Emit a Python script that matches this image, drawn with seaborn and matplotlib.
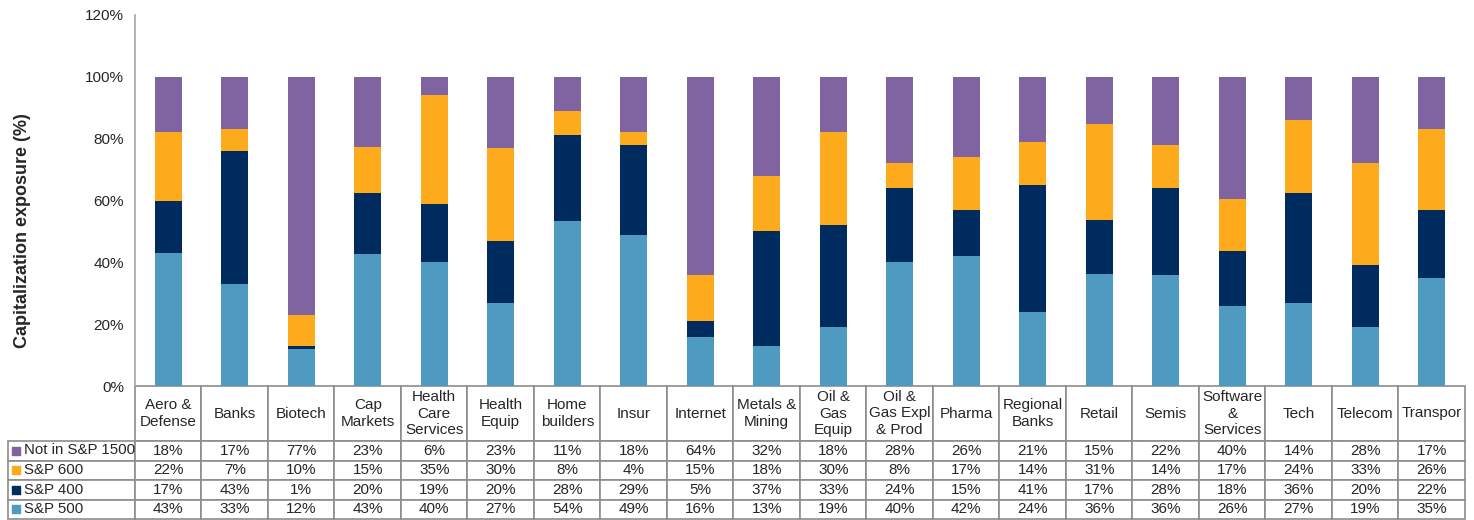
import matplotlib
matplotlib.use('Agg')
import matplotlib.pyplot as plt
import seaborn as sns
import pandas as pd
import numpy as np

sectors = ['Aero &\nDefense', 'Banks', 'Biotech', 'Cap\nMarkets', 'Health\nCare\nServices',
           'Health\nEquip', 'Home\nbuilders', 'Insur', 'Internet', 'Metals &\nMining',
           'Oil &\nGas\nEquip', 'Oil &\nGas Expl\n& Prod', 'Pharma', 'Regional\nBanks', 'Retail',
           'Semis', 'Software\n&\nServices', 'Tech', 'Telecom', 'Transpor']
not_in_1500 = [18, 17, 77, 23, 6, 23, 11, 18, 64, 32, 18, 28, 26, 21, 15, 22, 40, 14, 28, 17]
sp600 = [22, 7, 10, 15, 35, 30, 8, 4, 15, 18, 30, 8, 17, 14, 31, 14, 17, 24, 33, 26]
sp400 = [17, 43, 1, 20, 19, 20, 28, 29, 5, 37, 33, 24, 15, 41, 17, 28, 18, 36, 20, 22]
sp500 = [43, 33, 12, 43, 40, 27, 54, 49, 16, 13, 19, 40, 42, 24, 36, 36, 26, 27, 19, 35]

series_names = ['Not in S&P 1500', 'S&P 600', 'S&P 400', 'S&P 500']
series_vals = [not_in_1500, sp600, sp400, sp500]
colors = ['#8064A2', '#FDAA1C', '#002B5E', '#4F9AC1']

sns.set_style('white')
plt.rcParams['font.family'] = ['Liberation Sans', 'DejaVu Sans']

df = pd.DataFrame({'sector': sectors, 'sp500': sp500, 'sp400': sp400,
                   'sp600': sp600, 'not_in': not_in_1500})
# rounded table values don't always add to 100; bars in the chart are full 100%
total = df[['sp500', 'sp400', 'sp600', 'not_in']].sum(axis=1) / 100
df['c500'] = df['sp500'] / total
df['c400'] = df['c500'] + df['sp400'] / total
df['c600'] = df['c400'] + df['sp600'] / total
df['c_all'] = df['c600'] + df['not_in'] / total

W, H = 1330, 371  # axes size in pixels
fig = plt.figure(figsize=(14.74, 5.2), dpi=100)
ax = fig.add_axes([135 / 1474, 1 - 386 / 520, W / 1474, H / 520])

# stacked bars: draw cumulative totals from top segment down
for col, c in zip(['c_all', 'c600', 'c400', 'c500'], colors):
    sns.barplot(data=df, x='sector', y=col, color=c, width=0.4, ax=ax,
                order=sectors, saturation=1, linewidth=0)

ax.set_ylim(0, 120)
ax.set_xlim(-0.5, len(sectors) - 0.5)
ax.set_yticks(np.arange(0, 121, 20))
ax.set_yticklabels([f'{v}%' for v in range(0, 121, 20)], fontsize=11)
ax.tick_params(axis='y', length=0, pad=8)
ax.set_xticks([])
ax.set_xlabel('')
ax.set_ylabel('Capitalization exposure (%)', fontsize=13, fontweight='bold')
ax.yaxis.set_label_coords(-104 / W, 0.418)
for s in ['top', 'right', 'bottom']:
    ax.spines[s].set_visible(False)
ax.spines['left'].set_color('#A6A6A6')
ax.spines['left'].set_linewidth(1.2)

# data table below the plot (bbox covers the data grid; row label cells hang to the left)
cell_text = [[f'{v}%' for v in vals] for vals in series_vals]
lab_w = 127 / W
tbl = ax.table(cellText=cell_text, rowColours=['white'] * len(series_names),
               colLabels=sectors, cellLoc='center',
               bbox=[0, -133 / H, 1, 133 / H])
tbl.auto_set_font_size(False)
tbl.set_fontsize(11)
for (r, c), cell in tbl.get_celld().items():
    cell.set_edgecolor('#8C8C8C')
    cell.set_linewidth(1.2)
    cell.set_height((55 if r == 0 else 19.5) / H)
    cell.set_width(lab_w if c == -1 else 1 / len(sectors))

# legend keys + series names in the row label cells
row_centers = [450.5, 470, 489.5, 509]
for yc, name, c in zip(row_centers, series_names, colors):
    ax.scatter([(16 - 135) / W], [(386 - yc) / H], marker='s', s=34, color=c,
               transform=ax.transAxes, clip_on=False, zorder=5)
    ax.text((23.5 - 135) / W, (386 - yc) / H, name, fontsize=10.8, ha='left', va='center',
            transform=ax.transAxes, clip_on=False, zorder=5)

fig.savefig('out.png', dpi=100)
